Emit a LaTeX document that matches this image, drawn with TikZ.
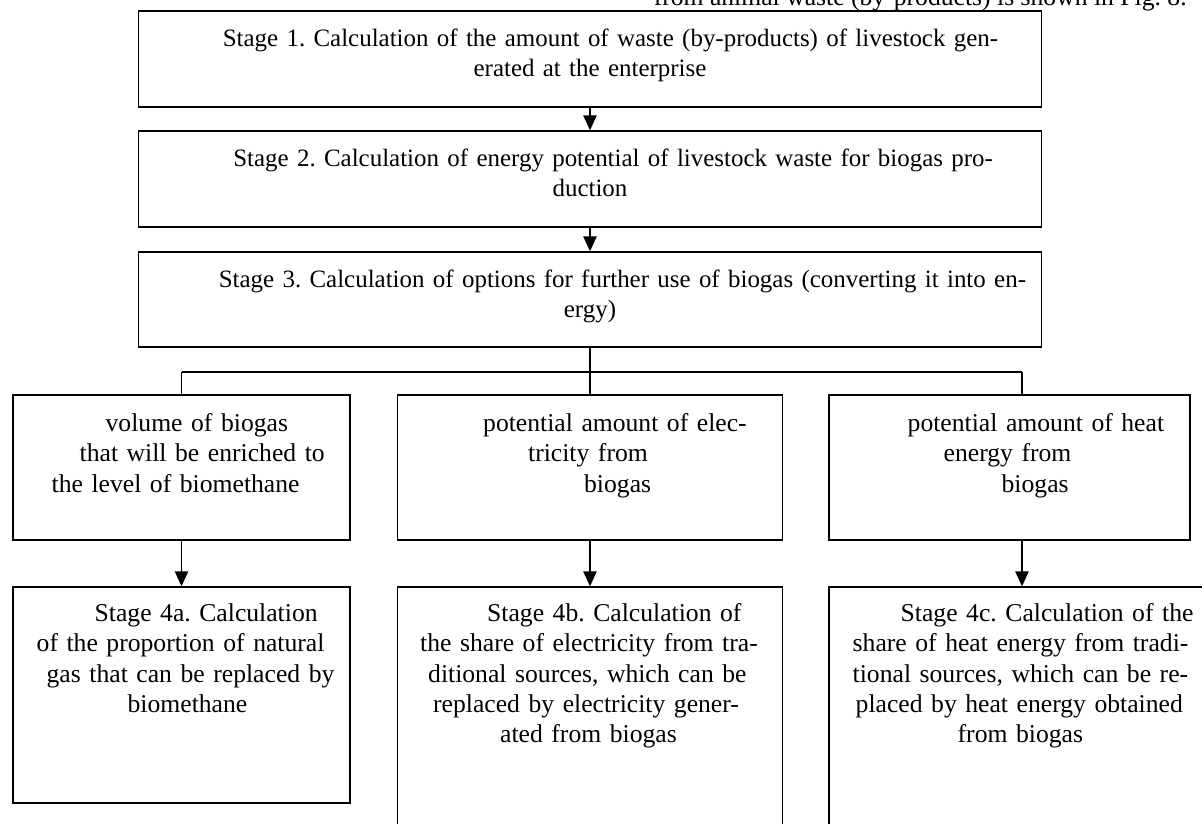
\documentclass[tikz,border=0pt]{standalone}
\usepackage{fontspec}
\setmainfont{Liberation Serif}
\usetikzlibrary{arrows.meta}
\newcommand{\jl}[2]{\makebox[#1][s]{#2}}
\frenchspacing

\begin{document}
\begin{tikzpicture}[x=0.02cm,y=-0.02cm,font=\fontsize{14.6}{17.2}\selectfont,
  frame/.style={draw,line width=0.8pt,inner sep=0pt},
  txt/.style={inner sep=0pt,align=left},
  head/.style={txt,anchor=north,text width=18.06cm,align=center,font=\fontsize{14.2}{17.2}\selectfont},
  link/.style={line width=0.8pt},
  arr/.style={line width=1pt,-{Triangle[length=8.5pt,width=7.5pt]}}]
  \useasboundingbox (0,0) rectangle (1202,823);
  \clip (0,0) rectangle (1202,823);
  % frames
  \node[frame,minimum width=18.06cm,minimum height=1.92cm] (s1) at (590,59) {};
  \node[frame,minimum width=18.06cm,minimum height=1.92cm] (s2) at (590,179) {};
  \node[frame,minimum width=18.06cm,minimum height=1.90cm] (s3) at (590,299.5) {};
  \node[frame,minimum width=6.74cm,minimum height=2.90cm] (v1) at (181.5,467.5) {};
  \node[frame,minimum width=7.70cm,minimum height=2.90cm] (v2) at (590,467.5) {};
  \node[frame,minimum width=7.22cm,minimum height=2.90cm] (v3) at (1009.5,467.5) {};
  \node[frame,minimum width=6.74cm,minimum height=4.32cm] (f4a) at (181.5,695) {};
  \node[frame,minimum width=7.70cm,minimum height=5.46cm] (f4b) at (590,723.5) {};
  \node[frame,minimum width=7.72cm,minimum height=5.46cm] (f4c) at (1022,723.5) {};
  % texts
  \node[anchor=base east,inner sep=0pt] (note) at (1187,5)
    {from animal waste (by-products) is shown in Fig.~8.};
  \node[head] (t1) at ([shift={(0,14.8)}]s1.north)
    {\strut\hspace*{1.49cm}\jl{16.18cm}{Stage 1. Calculation of the amount of waste (by-products) of livestock gen-}\hspace*{0.37cm}\\erated at the enterprise};
  \node[head] (t2) at ([shift={(0,14.8)}]s2.north)
    {\strut\hspace*{1.61cm}\jl{15.88cm}{Stage 2. Calculation of energy potential of livestock waste for biogas pro-}\hspace*{0.55cm}\\duction};
  \node[head] (t3) at ([shift={(0,14.8)}]s3.north)
    {\strut\hspace*{1.39cm}\jl{16.24cm}{Stage 3. Calculation of options for further use of biogas (converting it into en-}\hspace*{0.41cm}\\ergy)};
  \node[txt,anchor=north west,text width=6.74cm] (tv1) at ([shift={(0,15.8)}]v1.north west)
    {\strut\hspace*{1.86cm}volume of biogas\\\hspace*{1.34cm}that will be enriched to\\\hspace*{0.78cm}the level of biomethane};
  \node[txt,anchor=north west,text width=7.70cm] (tv2) at ([shift={(0,15.8)}]v2.north west)
    {\strut\hspace*{1.72cm}potential amount of elec-\\\hspace*{2.62cm}tricity from\\\hspace*{3.74cm}biogas};
  \node[txt,anchor=north west,text width=7.22cm] (tv3) at ([shift={(0,15.8)}]v3.north west)
    {\strut\hspace*{1.58cm}potential amount of heat\\\hspace*{2.30cm}energy from\\\hspace*{3.46cm}biogas};
  \node[txt,anchor=north west,text width=6.74cm] (t4a) at ([shift={(0,13.8)}]f4a.north west)
    {\strut\hspace*{1.64cm}\jl{4.50cm}{Stage 4a. Calculation}\\
     \hspace*{0.48cm}\jl{5.76cm}{of the proportion of natural}\\
     \hspace*{0.68cm}\jl{5.56cm}{gas that can be replaced by}\\
     \hspace*{2.30cm}biomethane};
  \node[txt,anchor=north west,text width=7.70cm] (t4b) at ([shift={(0,13.8)}]f4b.north west)
    {\strut\hspace*{1.80cm}\jl{5.12cm}{Stage 4b. Calculation of}\\
     \hspace*{0.46cm}\jl{6.56cm}{the share of electricity from tra-}\\
     \hspace*{0.62cm}\jl{6.44cm}{ditional sources, which can be}\\
     \hspace*{0.72cm}\jl{6.24cm}{replaced by electricity gener-}\\
     \hspace*{2.06cm}ated from biogas};
  \node[txt,anchor=north west,text width=7.72cm] (t4c) at ([shift={(0,13.8)}]f4c.north west)
    {\strut\hspace*{1.44cm}\jl{5.86cm}{Stage 4c. Calculation of the}\\
     \hspace*{0.48cm}\jl{6.80cm}{share of heat energy from tradi-}\\
     \hspace*{0.48cm}\jl{6.80cm}{tional sources, which can be re-}\\
     \hspace*{0.54cm}\jl{6.62cm}{placed by heat energy obtained}\\
     \hspace*{2.58cm}from biogas};
  % connectors
  \coordinate (bl) at (181.5,372);
  \coordinate (br) at (1022,372);
  \draw[arr] (s1.south) -- (s2.north);
  \draw[arr] (s2.south) -- (s3.north);
  \draw[link] (bl) -- (br);
  \draw[link] (s3.south) -- (v2.north);
  \draw[link] (bl) -- (v1.north);
  \draw[link] (br) -- (br |- v3.north);
  \draw[arr] (v1.south) -- (f4a.north);
  \draw[arr] (v2.south) -- (f4b.north);
  \draw[arr] (f4c.north |- v3.south) -- (f4c.north);
\end{tikzpicture}
\end{document}
